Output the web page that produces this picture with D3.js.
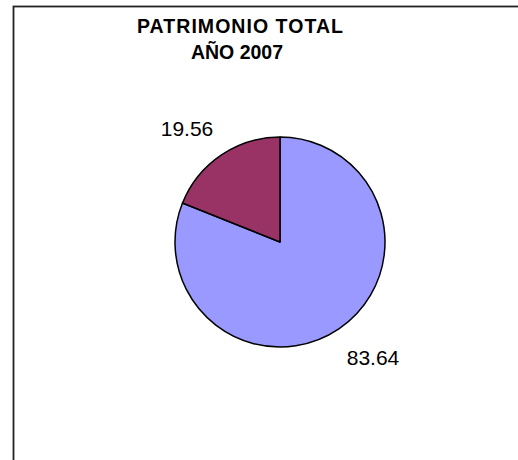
<!DOCTYPE html>
<html lang="es">
<head>
  <meta charset="UTF-8" />
  <title>Patrimonio Total 2007</title>
  <script src="https://cdn.jsdelivr.net/npm/d3@7/dist/d3.min.js"></script>
  <style>
    html, body { margin: 0; padding: 0; background: #fff; }
    #viz { width: 518px; height: 460px; }
    text { font-family: "Liberation Sans", Arial, sans-serif; fill: #000; }
  </style>
</head>
<body>
  <div id="viz"></div>

  <script>
  // datos
  const titleLines = ['PATRIMONIO TOTAL', 'AÑO 2007'];
  const sliceValues = [83.64, 19.56];
  const sliceColors = ['#9999FF', '#993366'];

  function drawViz() {
    const W = 518, H = 460;
    const cx = 280, cy = 242, r = 105;

    const svg = d3.select('#viz')
      .append('svg')
        .attr('width', W)
        .attr('height', H);

    // marco del gráfico (se sale por la derecha y abajo)
    svg.append('rect')
      .attr('x', 13.5).attr('y', 6.5)
      .attr('width', 700).attr('height', 700)
      .attr('fill', '#fff')
      .attr('stroke', '#222')
      .attr('stroke-width', 1.8);

    // título
    svg.append('text')
      .attr('x', 240).attr('y', 33)
      .attr('text-anchor', 'middle')
      .attr('font-size', 19.5)
      .attr('font-weight', 'bold')
      .attr('textLength', 206)
      .attr('lengthAdjust', 'spacing')
      .text(titleLines[0]);
    svg.append('text')
      .attr('x', 237).attr('y', 59)
      .attr('text-anchor', 'middle')
      .attr('font-size', 19.5)
      .attr('font-weight', 'bold')
      .text(titleLines[1]);

    const pie = d3.pie().sort(null).value(d => d);
    const arcs = pie(sliceValues);
    const arc = d3.arc().innerRadius(0).outerRadius(r);

    const g = svg.append('g').attr('transform', `translate(${cx},${cy})`);

    g.selectAll('path')
      .data(arcs)
      .enter()
      .append('path')
        .attr('d', arc)
        .attr('fill', (d, i) => sliceColors[i])
        .attr('stroke', '#000')
        .attr('stroke-width', 1.5)
        .attr('stroke-linejoin', 'round');

    // etiquetas fuera del borde
    const labelRx = r + 14, labelRy = r + 26;
    g.selectAll('text.lbl')
      .data(arcs)
      .enter()
      .append('text')
        .attr('class', 'lbl')
        .attr('font-size', 21)
        .each(function(d) {
          const a = (d.startAngle + d.endAngle) / 2;
          const dx = Math.sin(a), dy = -Math.cos(a);
          const px = dx * labelRx, py = dy * labelRy;
          d3.select(this)
            .attr('x', px)
            .attr('y', dy > 0 ? py + 15 : py + 2)
            .attr('text-anchor', dx > 0 ? 'start' : 'end')
            .text(d.data.toFixed(2));
        });
  }

  document.addEventListener('DOMContentLoaded', drawViz);
  </script>
</body>
</html>
